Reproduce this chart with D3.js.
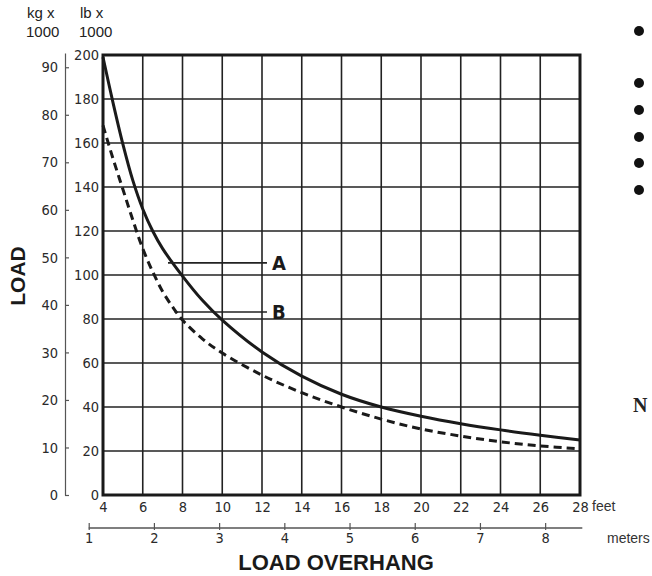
<!DOCTYPE html>
<html>
<head>
<meta charset="utf-8">
<script src="https://cdn.jsdelivr.net/npm/d3@7"></script>
<style>
  body { margin: 0; background: #fff; }
  svg { display: block; }
  .narrow { font-family: "Liberation Sans Narrow", "Arial Narrow", "DejaVu Sans Condensed", sans-serif; }
</style>
</head>
<body>
<div id="chart"></div>
<script>
//Width and height
var w = 652;
var h = 576;

//Data (feet vs lb x 1000)
var feetA = [4, 4.5, 5, 5.5, 6, 6.5, 7, 8, 9, 10, 12, 14, 16, 18, 20, 22, 24, 26, 28];
var loadA = [199, 178.5, 159.5, 143, 130, 120, 112, 99.5, 88.5, 79.5, 65, 54, 45.8, 40, 35.8, 32.4, 29.6, 27.2, 25];
var feetB = [4, 4.5, 5, 5.5, 6, 6.5, 7, 7.5, 8, 9, 10, 12, 14, 16, 18, 20, 22, 24, 26, 28];
var loadB = [168, 153, 139, 125, 112, 101.5, 92.5, 85.5, 79.5, 71, 64.5, 54.5, 46.5, 40, 34.5, 30, 26.8, 24.2, 22.3, 21];

//Tick labels
var feetTicks = [4, 6, 8, 10, 12, 14, 16, 18, 20, 22, 24, 26, 28];
var lbTicks = [0, 20, 40, 60, 80, 100, 120, 140, 160, 180, 200];
var kgTicks = [0, 10, 20, 30, 40, 50, 60, 70, 80, 90];
var meterTicks = [1, 2, 3, 4, 5, 6, 7, 8];

//Curve labels: name, load at leader line, leader start (ft)
var labelNames = ["A", "B"];
var labelLoads = [105.5, 83.2];
var labelStart = [7.27, 7.6];
var labelEnd = 12.25;

var FT_PER_M = 3.2808;

//Scales
var xScale = d3.scaleLinear().domain([4, 28]).range([103, 580]);
var yScale = d3.scaleLinear().domain([0, 200]).range([495, 55]);
var kgScale = d3.scaleLinear().domain([0, 93]).range([495, 53]);
var mScale = d3.scaleLinear()
  .domain([1, 8.57])
  .range([xScale(1 * FT_PER_M), xScale(8.57 * FT_PER_M)]);

var svg = d3.select("#chart")
  .append("svg")
  .attr("width", w)
  .attr("height", h);

//Grid
svg.append("g")
  .selectAll("line")
  .data(feetTicks)
  .enter()
  .append("line")
  .attr("x1", function(d) { return xScale(d); })
  .attr("x2", function(d) { return xScale(d); })
  .attr("y1", yScale(0))
  .attr("y2", yScale(200))
  .attr("stroke", "#222")
  .attr("stroke-width", 1.6);

svg.append("g")
  .selectAll("line")
  .data(lbTicks)
  .enter()
  .append("line")
  .attr("x1", xScale(4))
  .attr("x2", xScale(28))
  .attr("y1", function(d) { return yScale(d); })
  .attr("y2", function(d) { return yScale(d); })
  .attr("stroke", "#222")
  .attr("stroke-width", 1.6);

//Frame
svg.append("rect")
  .attr("x", xScale(4))
  .attr("y", yScale(200))
  .attr("width", xScale(28) - xScale(4))
  .attr("height", yScale(0) - yScale(200))
  .attr("fill", "none")
  .attr("stroke", "#1a1a1a")
  .attr("stroke-width", 3);

//Curves
var line = d3.line()
  .x(function(d) { return xScale(d[0]); })
  .y(function(d) { return yScale(d[1]); })
  .curve(d3.curveCatmullRom.alpha(0.5));

svg.append("path")
  .datum(d3.zip(feetA, loadA))
  .attr("d", line)
  .attr("fill", "none")
  .attr("stroke", "#1a1a1a")
  .attr("stroke-width", 3);

svg.append("path")
  .datum(d3.zip(feetB, loadB))
  .attr("d", line)
  .attr("fill", "none")
  .attr("stroke", "#1a1a1a")
  .attr("stroke-width", 3)
  .attr("stroke-dasharray", "8,5");

//Leader lines + A / B labels
labelNames.forEach(function(name, i) {
  svg.append("line")
    .attr("x1", xScale(labelStart[i]))
    .attr("x2", xScale(labelEnd))
    .attr("y1", yScale(labelLoads[i]))
    .attr("y2", yScale(labelLoads[i]))
    .attr("stroke", "#222")
    .attr("stroke-width", 1.6);
  svg.append("text")
    .attr("class", "narrow")
    .attr("x", xScale(labelEnd) + 5)
    .attr("y", yScale(labelLoads[i]))
    .attr("dy", "0.36em")
    .attr("font-size", 20)
    .attr("font-weight", "bold")
    .attr("fill", "#1a1a1a")
    .text(name);
});

//lb axis
var lbAxis = d3.axisLeft(yScale).tickValues(lbTicks).tickSize(0).tickPadding(4);
svg.append("g")
  .attr("class", "narrow")
  .attr("transform", "translate(" + xScale(4) + ",0)")
  .call(lbAxis)
  .call(function(g) {
    g.select(".domain").remove();
    g.selectAll("text").attr("font-size", 14.5).attr("fill", "#2a2a2a")
      .attr("font-family", null);
  });

//kg axis
var kgAxis = d3.axisLeft(kgScale).tickValues(kgTicks).tickSizeInner(-4).tickSizeOuter(0).tickPadding(7);
svg.append("g")
  .attr("class", "narrow")
  .attr("transform", "translate(65,0)")
  .call(kgAxis)
  .call(function(g) {
    g.select(".domain").attr("stroke", "#555").attr("stroke-width", 1.2);
    g.selectAll(".tick line").attr("stroke", "#555").attr("stroke-width", 1.2);
    g.selectAll("text").attr("font-size", 14.5).attr("fill", "#2a2a2a")
      .attr("font-family", null);
  });

//feet axis
var feetAxis = d3.axisBottom(xScale).tickValues(feetTicks).tickSize(0).tickPadding(7);
svg.append("g")
  .attr("class", "narrow")
  .attr("transform", "translate(0," + yScale(0) + ")")
  .call(feetAxis)
  .call(function(g) {
    g.select(".domain").remove();
    g.selectAll("text").attr("font-size", 14.5).attr("fill", "#2a2a2a")
      .attr("font-family", null);
  });

//meters axis
var mAxis = d3.axisBottom(mScale).tickValues(meterTicks).tickSize(7).tickPadding(3);
svg.append("g")
  .attr("class", "narrow")
  .attr("transform", "translate(0,523)")
  .call(mAxis)
  .call(function(g) {
    g.select(".domain").remove();
    g.selectAll(".tick line").attr("stroke", "#555").attr("stroke-width", 1.2);
    g.selectAll("text").attr("font-size", 14.5).attr("fill", "#2a2a2a")
      .attr("font-family", null);
  });
svg.append("line")
  .attr("x1", mScale(1))
  .attr("x2", mScale(8.57))
  .attr("y1", 528)
  .attr("y2", 528)
  .attr("stroke", "#555")
  .attr("stroke-width", 1.5);

//Unit labels
var sans = "'Liberation Sans', Arial, sans-serif";
svg.append("text").attr("x", 592).attr("y", 506).attr("dy", "0.35em")
  .attr("font-family", sans).attr("font-size", 14).attr("fill", "#333").text("feet");
svg.append("text").attr("x", 607).attr("y", 538).attr("dy", "0.35em")
  .attr("font-family", sans).attr("font-size", 14).attr("fill", "#333").text("meters");

[["kg x", 27, 13], ["1000", 26, 32], ["lb x", 80, 13], ["1000", 79, 32]].forEach(function(t) {
  svg.append("text").attr("x", t[1]).attr("y", t[2]).attr("dy", "0.35em")
    .attr("font-family", sans).attr("font-size", 15).attr("fill", "#222").text(t[0]);
});

//Axis titles
svg.append("text")
  .attr("transform", "translate(17,276) rotate(-90)")
  .attr("text-anchor", "middle")
  .attr("dy", "0.36em")
  .attr("font-family", sans)
  .attr("font-weight", "bold")
  .attr("font-size", 21)
  .attr("fill", "#1a1a1a")
  .text("LOAD");

svg.append("text")
  .attr("x", 336)
  .attr("y", 562)
  .attr("text-anchor", "middle")
  .attr("dy", "0.36em")
  .attr("font-family", sans)
  .attr("font-weight", "bold")
  .attr("font-size", 22)
  .attr("fill", "#1a1a1a")
  .text("LOAD OVERHANG");

//Right column fragments (bullets and cut-off letter)
var bulletY = [31, 83, 110, 137, 163, 190];
svg.append("g")
  .selectAll("circle")
  .data(bulletY)
  .enter()
  .append("circle")
  .attr("cx", 639)
  .attr("cy", function(d) { return d; })
  .attr("r", 5)
  .attr("fill", "#111");

svg.append("text")
  .attr("x", 633)
  .attr("y", 405)
  .attr("dy", "0.36em")
  .attr("font-family", "'Liberation Serif', 'DejaVu Serif', serif")
  .attr("font-weight", "bold")
  .attr("font-size", 20)
  .attr("fill", "#222")
  .text("N");
</script>
</body>
</html>
